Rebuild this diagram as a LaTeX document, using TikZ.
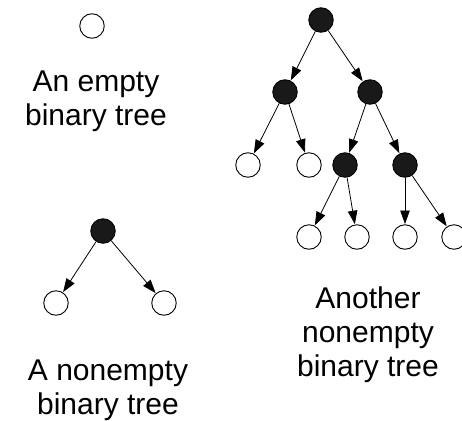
\documentclass[tikz,border=0pt]{standalone}
\usepackage{fontspec}
\setmainfont{Liberation Sans}
\usetikzlibrary{arrows.meta}
\begin{document}
\begin{tikzpicture}[x=1pt,y=-1pt,
  emptynode/.style={circle,draw=black,fill=white,line width=0.9pt,minimum size=24.5pt,inner sep=0pt},
  fullnode/.style={circle,draw=black,fill=black!90,line width=0.9pt,minimum size=24.5pt,inner sep=0pt},
  edge/.style={line width=0.8pt,-{Triangle[length=13.5pt,width=9.5pt]},shorten >=0.3pt},
  caption/.style={font=\fontsize{30pt}{34pt}\selectfont,align=center,anchor=base,inner sep=0pt}]
\useasboundingbox (0,0) rectangle (462,420);
% empty tree
\node[emptynode] (e) at (92,26) {};
\node[caption] (elabel) at (96,125) {An empty\\binary tree};
% small nonempty tree
\node[fullnode] (s) at (103,231) {};
\node[emptynode] (sl) at (56,303) {};
\node[emptynode] (sr) at (164,303) {};
\draw[edge] (s) -- (sl);
\draw[edge] (s) -- (sr);
\node[caption] (slabel) at (108,414) {A nonempty\\binary tree};
% big tree
\node[fullnode] (r) at (321,20) {};
\node[fullnode] (a) at (285,92) {};
\node[fullnode] (b) at (370,92) {};
\node[emptynode] (aa) at (248,165) {};
\node[emptynode] (ab) at (309,165) {};
\node[fullnode] (ba) at (345,165) {};
\node[fullnode] (bb) at (405,165) {};
\node[emptynode] (baa) at (309,237) {};
\node[emptynode] (bab) at (357,237) {};
\node[emptynode] (bba) at (405,237) {};
\node[emptynode] (bbb) at (454,237) {};
\draw[edge] (r) -- (a);
\draw[edge] (r) -- (b);
\draw[edge] (a) -- (aa);
\draw[edge] (a) -- (ab);
\draw[edge] (b) -- (ba);
\draw[edge] (b) -- (bb);
\draw[edge] (ba) -- (baa);
\draw[edge] (ba) -- (bab);
\draw[edge] (bb) -- (bba);
\draw[edge] (bb) -- (bbb);
\node[caption] (blabel) at (368,376) {Another\\nonempty\\binary tree};
\end{tikzpicture}
\end{document}
